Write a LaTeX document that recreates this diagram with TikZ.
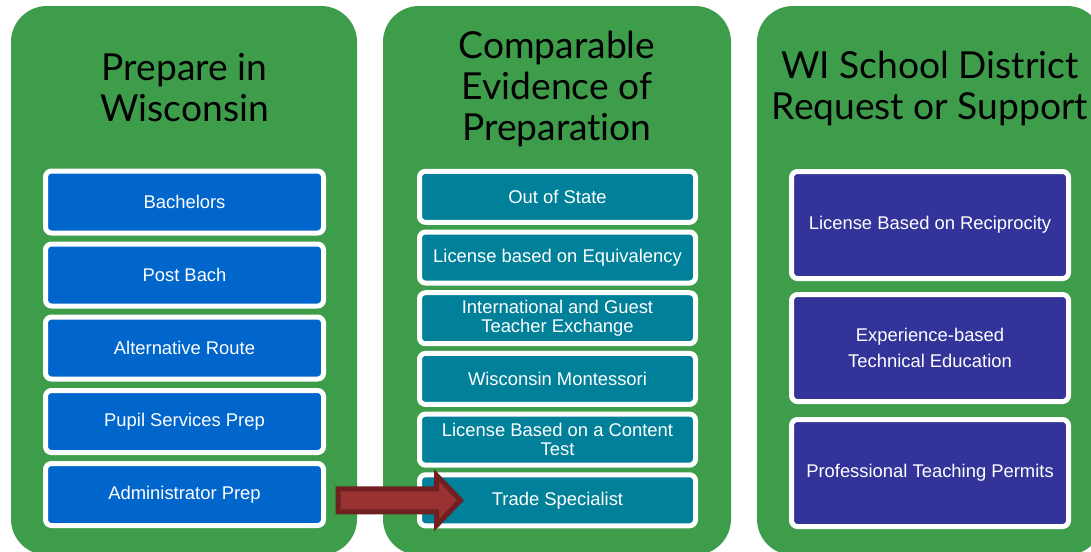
\documentclass[tikz,border=0pt]{standalone}
\usepackage{fontspec}
\setmainfont{Liberation Sans}
\newfontfamily\titlefont{Lato}[Ligatures={NoCommon}]
\usetikzlibrary{calc}
\definecolor{pgreen}{RGB}{61,157,74}
\definecolor{bblue}{RGB}{0,102,204}
\definecolor{bteal}{RGB}{0,128,153}
\definecolor{bpurple}{RGB}{51,51,153}
\definecolor{arfill}{RGB}{153,51,51}
\definecolor{arline}{RGB}{112,32,32}
\begin{document}
\begin{tikzpicture}[x=0.75pt,y=-0.75pt,
  panel/.style={fill=pgreen, rounded corners=27pt},
  ttl/.style={font=\titlefont\fontsize{27.9}{30.75}\selectfont, align=center, inner sep=0pt, text=black},
  box/.style={draw=white, line width=3.75pt, rounded corners=4.5pt, text=white,
    font=\fontsize{13.8}{14.25}\selectfont, align=center, inner sep=0pt},
  bluebox/.style={box, fill=bblue, minimum width=208.5pt, minimum height=46.5pt},
  tealbox/.style={box, fill=bteal, minimum width=207pt, minimum height=38.25pt},
  purplebox/.style={box, fill=bpurple, minimum width=207.75pt, minimum height=80.25pt,
    font=\fontsize{13.8}{19.5}\selectfont},
  blockarrow/.style={draw=arline, fill=arfill, line width=3.75pt, line join=miter}
]
\useasboundingbox (0,0) rectangle (1091,551);
\fill[white] (0,0) rectangle (1091,551);
\clip (0,0) rectangle (1091,551);

% panels
\fill[panel] (11,6) rectangle (357,555);
\fill[panel] (383,6) rectangle (731,555);
\fill[panel] (757,6) rectangle (1103,555);

% titles
\node[ttl] (t1) at (184.5,87.5) {Prepare in\\Wisconsin};
\node[ttl] (t2) at (557,88.5) {Comparable\\Evidence of\\Preparation};
\node[ttl] (t3) at (930,88.5) {WI School District\\Request or Support};

% column 1
\node[bluebox] (bach) at (184.5,202) {Bachelors};
\node[bluebox] (post) at (184.5,275) {Post Bach};
\node[bluebox] (alt) at (184.5,348) {Alternative Route};
\node[bluebox] (pupil) at (184.5,421.5) {Pupil Services Prep};
\node[bluebox] (admin) at (184.5,494.5) {Administrator Prep};

% column 2
\node[tealbox] (oos) at (557.5,196.8) {Out of State};
\node[tealbox] (equiv) at (557.5,257.5) {License based on Equivalency};
\node[tealbox] (intl) at (557.5,318.2) {International and Guest\\Teacher Exchange};
\node[tealbox] (mont) at (557.5,378.9) {Wisconsin Montessori};
\node[tealbox] (content) at (557.5,439.6) {License Based on a Content\\Test};
\node[tealbox] (trade) at (557.5,500.3) {Trade Specialist};

% column 3
\node[purplebox] (recip) at (930,225) {License Based on Reciprocity};
\node[purplebox] (exper) at (930,348) {Experience-based\\Technical Education};
\node[purplebox] (perm) at (930,473) {Professional Teaching Permits};

% block arrow
\coordinate (aT) at ($(trade.west)+(43.5,0)$);
\coordinate (aS) at ($(admin.east |- aT)+(12,0)$);
\draw[blockarrow]
  ($(aS)+(0,-11.5)$) -- ($(aT)+(-24,-11.5)$) -- ($(aT)+(-24,-25)$) -- (aT)
  -- ($(aT)+(-24,25)$) -- ($(aT)+(-24,11.5)$) -- ($(aS)+(0,11.5)$) -- cycle;
\end{tikzpicture}
\end{document}
